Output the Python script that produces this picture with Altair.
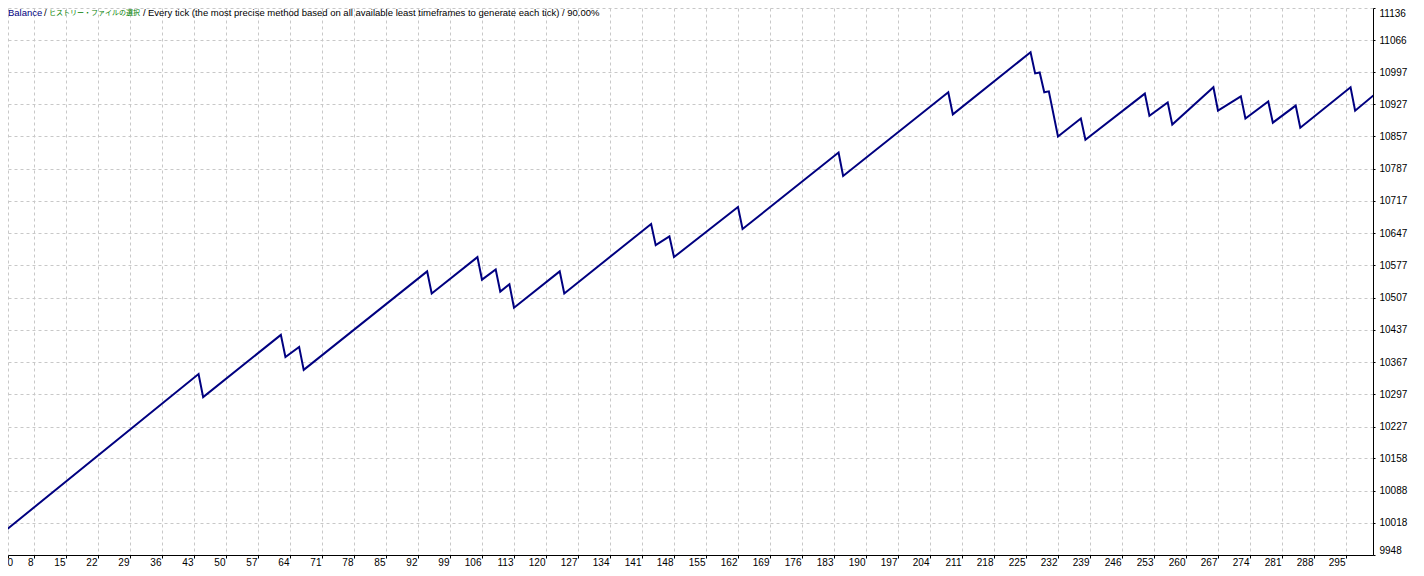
import altair as alt
import pandas as pd

# ---- data ----
trade = [1, 44, 45, 62, 63, 66, 67, 94, 95, 105, 106, 109, 110, 112, 113, 123, 124,
         143, 144, 147, 148, 162, 163, 184, 185, 208, 209, 226, 227, 228, 229, 230,
         232, 237, 238, 251, 252, 256, 257, 266, 267, 272, 273, 278, 279, 284, 285,
         296, 297, 301]
balance = [9995, 10341, 10291, 10426, 10378, 10400, 10350, 10564, 10516, 10595, 10546,
           10568, 10520, 10536, 10485, 10564, 10516, 10667, 10621, 10640, 10595, 10704,
           10656, 10822, 10771, 10953, 10905, 11040, 10994, 10996, 10953, 10955, 10857,
           10896, 10850, 10950, 10902, 10931, 10883, 10964, 10913, 10944, 10896, 10933,
           10887, 10924, 10876, 10964, 10913, 10946]

x_labels = [0, 8, 15, 22, 29, 36, 43, 50, 57, 64, 71, 78, 85, 92, 99, 106, 113, 120,
            127, 134, 141, 148, 155, 162, 169, 176, 183, 190, 197, 204, 211, 218, 225,
            232, 239, 246, 253, 260, 267, 274, 281, 288, 295]
y_labels = [9948, 10018, 10088, 10158, 10227, 10297, 10367, 10437, 10507, 10577, 10647,
            10717, 10787, 10857, 10927, 10997, 11066, 11136]

title_parts = ["Balance", "/", "ヒストリー・ファイルの選択", "/",
               "Every tick (the most precise method based on all available least timeframes to generate each tick) / 90.00%"]

X_MIN, X_MAX = 2.3125, 300.91
Y_MIN, Y_MAX = 9948, 11136

df = pd.DataFrame({"trade": trade, "balance": balance})
x_ticks = [max(v, X_MIN) for v in x_labels]

FONT = "Liberation Sans, Arial, sans-serif"
GRID = "#c8c8c8"

x_axis = alt.Axis(
    values=x_ticks, title=None, grid=True, gridDash=[3, 3], gridColor=GRID,
    domainColor="black", domainWidth=1, tickColor="black", tickSize=3,
    labelFont=FONT, labelFontSize=10, labelColor="black",
    labelAlign=alt.condition("datum.value < 3", alt.value("left"), alt.value("right")),
    labelBaseline="middle", labelPadding=4, labelOffset=-1, labelOverlap=False,
    labelExpr="datum.value < 3 ? '0' : datum.label", format="d",
)
y_axis = alt.Axis(
    values=y_labels, orient="right", title=None, grid=True, gridDash=[3, 3],
    gridColor=GRID, domainColor="black", domainWidth=1, tickColor="black",
    tickSize=2, labelFont=FONT, labelFontSize=10, labelColor="black",
    labelPadding=4, labelFlush=True, labelOverlap=False, format="d",
)

line = alt.Chart(df).mark_line(color="#000080", strokeWidth=2, clip=True).encode(
    x=alt.X("trade:Q", scale=alt.Scale(domain=[X_MIN, X_MAX], nice=False, zero=False), axis=x_axis),
    y=alt.Y("balance:Q", scale=alt.Scale(domain=[Y_MIN, Y_MAX], nice=False, zero=False), axis=y_axis),
)

dummy = pd.DataFrame({"k": [0]})

def seg(text, xpos, color, size=9.5, font=FONT):
    return alt.Chart(dummy).mark_text(
        text=text, align="left", baseline="middle", color=color,
        font=font, fontSize=size,
    ).encode(x=alt.value(xpos), y=alt.value(5))

texts = [
    seg(title_parts[0], 0, "#000080"),
    seg(title_parts[1], 36, "black"),
    seg(title_parts[2], 41, "#008000", size=7, font="Noto Sans CJK JP"),
    seg(title_parts[3], 135, "black"),
    seg(title_parts[4], 140, "black"),
]

chart = alt.layer(line, *texts).properties(
    width=1365, height=547,
    autosize=alt.AutoSizeParams(type="none"),
    padding={"left": 0, "top": 0, "right": 43, "bottom": 13},
    background="white",
).configure_view(strokeWidth=0)

chart.save("out.html", embed_options={"renderer": "svg", "actions": False})
